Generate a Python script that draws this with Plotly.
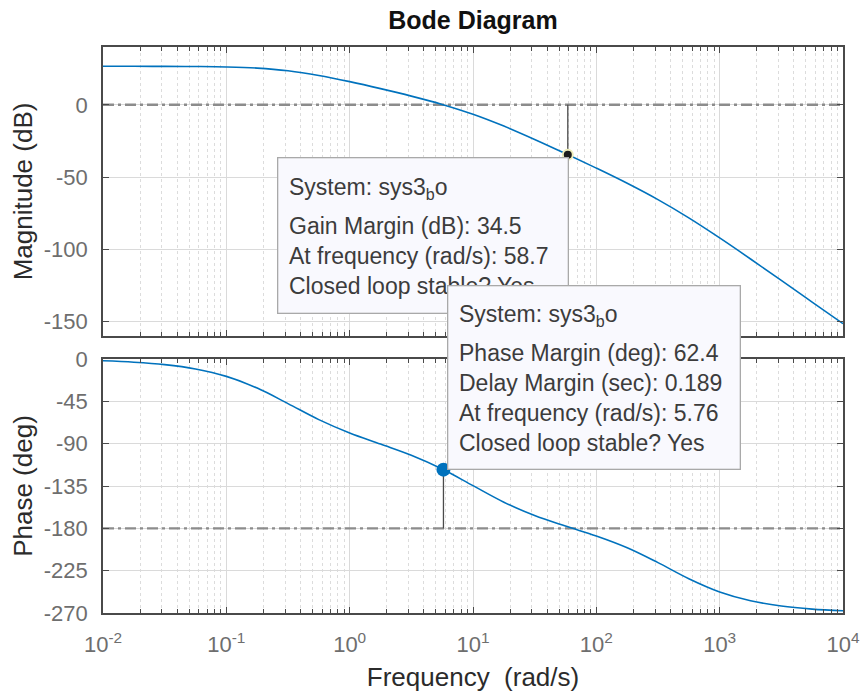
import plotly.graph_objects as go

# ---------------- data ----------------
freq = [0.01, 0.0178, 0.0316, 0.0562, 0.1, 0.178, 0.316, 0.562, 1, 1.78, 3.16, 5.62,
        10, 17.8, 31.6, 56.2, 100, 178, 316, 562, 1000, 1780, 3160, 5620, 10000]
mag_db = [26.64, 26.63, 26.60, 26.50, 26.21, 25.40, 23.54, 20.30, 16.02, 11.19, 6.02, 0.27,
          -6.55, -14.75, -23.96, -33.75, -43.83, -54.34, -65.64, -78.26, -92.13, -106.70,
          -121.56, -136.51, -151.50]
phase_deg = [-1.91, -3.39, -6.00, -10.61, -18.47, -30.91, -47.41, -64.42, -78.63, -90.46,
             -102.39, -116.98, -134.65, -152.22, -166.40, -177.59, -188.15, -200.67,
             -216.44, -233.51, -247.61, -256.99, -262.60, -265.83, -267.65]

gm_freq = 58.7
gm_db = 34.5
pm_freq = 5.76
pm_deg = 62.4
delay_margin = 0.189

freq_limits = [0.01, 10000]
mag_ref = 0
phase_ref = -180

mag_ticks = [-150, -100, -50, 0]
phase_ticks = [-270, -225, -180, -135, -90, -45, 0]
x_tickvals = [1e-2, 1e-1, 1e0, 1e1, 1e2, 1e3, 1e4]
x_ticktext = ["10<sup>-2</sup>", "10<sup>-1</sup>", "10<sup>0</sup>", "10<sup>1</sup>",
              "10<sup>2</sup>", "10<sup>3</sup>", "10<sup>4</sup>"]
x_minor = [m * 10 ** e for e in range(-2, 4) for m in range(2, 10)]

# ---------------- layout constants ----------------
W, H = 864, 696
ML, MR, MT, MB = 103, 21, 47, 83
PW, PH = W - ML - MR, H - MT - MB
FONT = "Liberation Sans, Arial, Helvetica, sans-serif"
BLUE = "#0072BD"
AXC = "#4a4a4a"
TICKC = "#6e6e6e"
LABC = "#2b2b2b"


def px(xp):
    return (xp - ML) / PW


def py(yp):
    return (H - MB - yp) / PH


fig = go.Figure()

# reference lines (0 dB, -180 deg), dash-dot
dd = "11px,4px,3px,4px"
fig.add_trace(go.Scatter(x=freq_limits, y=[mag_ref, mag_ref], mode="lines",
                         line=dict(color="#8c8c8c", width=2.4, dash=dd), xaxis="x", yaxis="y",
                         showlegend=False, hoverinfo="skip"))
fig.add_trace(go.Scatter(x=freq_limits, y=[phase_ref, phase_ref], mode="lines",
                         line=dict(color="#8c8c8c", width=2.4, dash=dd), xaxis="x2", yaxis="y2",
                         showlegend=False, hoverinfo="skip"))

# curves
fig.add_trace(go.Scatter(x=freq, y=mag_db, mode="lines", line=dict(color=BLUE, width=1.6, shape="spline"),
                         xaxis="x", yaxis="y", showlegend=False, hoverinfo="skip"))
fig.add_trace(go.Scatter(x=freq, y=phase_deg, mode="lines", line=dict(color=BLUE, width=1.6, shape="spline"),
                         xaxis="x2", yaxis="y2", showlegend=False, hoverinfo="skip"))

# margin stems
fig.add_trace(go.Scatter(x=[gm_freq, gm_freq], y=[mag_ref, -gm_db], mode="lines",
                         line=dict(color="#4a4a4a", width=1.3), xaxis="x", yaxis="y",
                         showlegend=False, hoverinfo="skip"))
fig.add_trace(go.Scatter(x=[pm_freq, pm_freq], y=[phase_ref, phase_ref + pm_deg], mode="lines",
                         line=dict(color="#4a4a4a", width=1.3), xaxis="x2", yaxis="y2",
                         showlegend=False, hoverinfo="skip"))

# markers
fig.add_trace(go.Scatter(x=[gm_freq], y=[-gm_db], mode="markers",
                         marker=dict(size=10, color="#1c1c1c", line=dict(color="#eeeebb", width=2)),
                         xaxis="x", yaxis="y", showlegend=False, hoverinfo="skip"))
fig.add_trace(go.Scatter(x=[pm_freq], y=[phase_ref + pm_deg], mode="markers",
                         marker=dict(size=14, color=BLUE, line=dict(width=0)),
                         xaxis="x2", yaxis="y2", showlegend=False, hoverinfo="skip"))

axis_common = dict(
    showline=True, linecolor=AXC, linewidth=1.6, mirror="allticks",
    ticks="inside", ticklen=6, tickcolor=AXC, tickwidth=1,
    showgrid=True, gridcolor="#dadada", gridwidth=1, zeroline=False,
    tickfont=dict(family=FONT, size=22, color=TICKC),
)
xminor = dict(tickvals=x_minor, ticks="inside", ticklen=4, tickcolor=AXC,
              showgrid=True, gridcolor="#dcdcdc", griddash="dot", gridwidth=1)

top_lo = py(336)
bot_hi = py(359)

fig.update_layout(
    width=W, height=H,
    margin=dict(l=ML, r=MR, t=MT, b=MB, autoexpand=False),
    paper_bgcolor="white", plot_bgcolor="white",
    font=dict(family=FONT, color=LABC),
    title=dict(text="<b>Bode Diagram</b>", x=0.5, xref="paper", xanchor="center",
               y=1 - 20 / H, yref="container", yanchor="middle",
               font=dict(family=FONT, size=25, color="#111111")),
    xaxis=dict(axis_common, type="log", range=[-2, 4], domain=[0, 1], anchor="y",
               tickvals=x_tickvals, ticktext=x_ticktext, showticklabels=False, minor=xminor),
    yaxis=dict(axis_common, range=[-160, 40], domain=[top_lo, 1], anchor="x",
               tickvals=mag_ticks, ticktext=[str(v) for v in mag_ticks], ticklabelstandoff=9,
               title=dict(text="Magnitude (dB)", standoff=4, font=dict(family=FONT, size=26, color=LABC))),
    xaxis2=dict(axis_common, type="log", range=[-2, 4], domain=[0, 1], anchor="y2",
                tickvals=x_tickvals, ticktext=x_ticktext, minor=xminor, ticklabelstandoff=11,
                title=dict(text="Frequency\u00a0 (rad/s)", standoff=12, font=dict(family=FONT, size=26, color=LABC))),
    yaxis2=dict(axis_common, range=[-270, 0], domain=[0, bot_hi], anchor="x2",
                tickvals=phase_ticks, ticktext=[str(v) for v in phase_ticks], ticklabelstandoff=9,
                title=dict(text="Phase (deg)", standoff=4, font=dict(family=FONT, size=26, color=LABC))),
)

# ---------------- data tips ----------------
BOXBG = "#f9f9fe"
BOXBD = "#a9a9a9"
TXT = "#3c3c3c"
TF = 23


def add_tip(left, top, right, bottom, text_x, head_y, body_y, body_lines):
    fig.add_annotation(xref="paper", yref="paper", x=px(left), y=py(top), xanchor="left", yanchor="top",
                       text=" ", width=right - left, height=bottom - top, showarrow=False,
                       bgcolor=BOXBG, bordercolor=BOXBD, borderwidth=1.3, borderpad=0)
    fig.add_annotation(xref="paper", yref="paper", x=px(text_x), y=py(head_y), xanchor="left", yanchor="middle",
                       text="System: sys3<sub>b</sub>o", showarrow=False, align="left", borderpad=0,
                       font=dict(family=FONT, size=TF, color=TXT))
    fig.add_annotation(xref="paper", yref="paper", x=px(text_x), y=py(body_y), xanchor="left", yanchor="middle",
                       text="<br>".join(body_lines), showarrow=False, align="left", borderpad=0,
                       font=dict(family=FONT, size=TF, color=TXT))


add_tip(277, 157, 566, 311, 288, 188, 256,
        [f"Gain Margin (dB): {gm_db}", f"At frequency (rad/s): {gm_freq}", "Closed loop stable? Yes"])
add_tip(447, 285, 738, 467, 458, 315, 398,
        [f"Phase Margin (deg): {pm_deg}", f"Delay Margin (sec): {delay_margin}",
         f"At frequency (rad/s): {pm_freq}", "Closed loop stable? Yes"])

fig.write_html("out.html")
